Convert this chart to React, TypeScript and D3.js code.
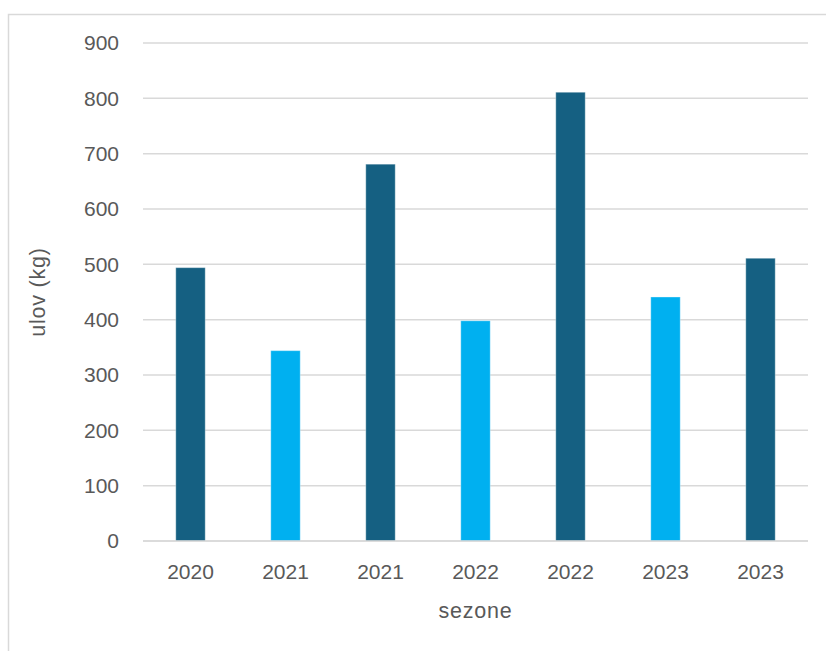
import React from "react";
import * as d3 from "d3";

// Catch per season (kg)
const seasons = ["2020", "2021", "2021", "2022", "2022", "2023", "2023"];
const catchKg = [494, 344, 681, 398, 811, 441, 511];
const barKinds = ["dark", "light", "dark", "light", "dark", "light", "dark"];
const yTicks = [0, 100, 200, 300, 400, 500, 600, 700, 800, 900];

const kindColor: Record<string, string> = { dark: "#156082", light: "#00B0F0" };

const W = 826;
const H = 651;
const plot = { left: 143, right: 808, top: 43, bottom: 541 };
const textColor = "#595959";
const font = "'Liberation Sans', Arial, sans-serif";
const tickSize = 21;
const titleSize = 21.5;

export default function App() {
  const x = d3
    .scaleBand<number>()
    .domain(d3.range(seasons.length))
    .range([plot.left, plot.right])
    .paddingInner(0.69)
    .paddingOuter(0.345);
  const y = d3.scaleLinear().domain([0, 900]).range([plot.bottom, plot.top]);

  return (
    <div style={{ position: "fixed", left: 0, top: 0, width: W, height: H, background: "#fff" }}>
      <svg width={W} height={H} style={{ display: "block" }}>
        <rect x={8.5} y={14.5} width={W + 10} height={H + 10} fill="#fff" stroke="#d9d9d9" strokeWidth={1.5} />
        {yTicks.map((t) => (
          <g key={t}>
            <line x1={plot.left} x2={plot.right} y1={y(t)} y2={y(t)} stroke="#d9d9d9" strokeWidth={1.5} />
            <text
              x={119}
              y={y(t)}
              dy="0.35em"
              textAnchor="end"
              fontFamily={font}
              fontSize={tickSize}
              fill={textColor}
            >
              {t}
            </text>
          </g>
        ))}
        {catchKg.map((v, i) => (
          <rect
            key={i}
            x={x(i)}
            y={y(v)}
            width={x.bandwidth()}
            height={y(0) - y(v)}
            fill={kindColor[barKinds[i]]}
            stroke="rgba(255,255,255,0.35)"
            strokeWidth={1}
          />
        ))}
        <line x1={plot.left} x2={plot.right} y1={y(0)} y2={y(0)} stroke="#d9d9d9" strokeWidth={1.5} />
        {seasons.map((s, i) => (
          <text
            key={i}
            x={(x(i) ?? 0) + x.bandwidth() / 2}
            y={572}
            dy="0.35em"
            textAnchor="middle"
            fontFamily={font}
            fontSize={tickSize}
            fill={textColor}
          >
            {s}
          </text>
        ))}
        <text
          x={(plot.left + plot.right) / 2}
          y={610}
          dy="0.35em"
          textAnchor="middle"
          fontFamily={font}
          fontSize={titleSize}
          letterSpacing={0.8}
          fill={textColor}
        >
          sezone
        </text>
        <text
          transform={`translate(37, ${(plot.top + plot.bottom) / 2}) rotate(-90)`}
          dy="0.35em"
          textAnchor="middle"
          fontFamily={font}
          fontSize={titleSize}
          letterSpacing={0.8}
          fill={textColor}
        >
          ulov (kg)
        </text>
      </svg>
    </div>
  );
}
